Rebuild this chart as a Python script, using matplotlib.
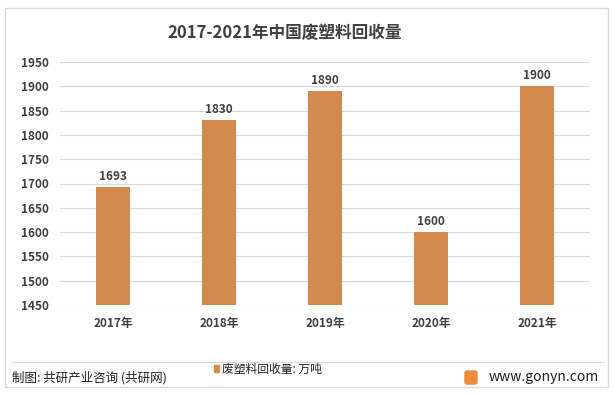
import matplotlib
matplotlib.use('Agg')
import matplotlib.pyplot as plt
from matplotlib.patches import Rectangle, FancyBboxPatch

plt.rcParams['font.family'] = ['Noto Sans CJK SC', 'DejaVu Sans']

years = ['2017年', '2018年', '2019年', '2020年', '2021年']
values = [1693, 1830, 1890, 1600, 1900]
yticks = [1450, 1500, 1550, 1600, 1650, 1700, 1750, 1800, 1850, 1900, 1950]

bar_color = '#D38B4D'
text_color = '#404040'

fig = plt.figure(figsize=(6.14, 3.95), dpi=100)

# outer frame
fig.patches.append(Rectangle((5/614, 8/395), 603/614, 379/395, transform=fig.transFigure,
                             fill=False, edgecolor='#D9D9D9', linewidth=1))

ax = fig.add_axes([60/614, 90/395, 530/614, 243/395])
x = range(len(years))
bars = ax.bar(x, values, width=0.32, color=bar_color, zorder=3)
ax.set_ylim(1450, 1950)
ax.set_xlim(-0.5, len(years) - 0.5)
ax.set_yticks(yticks)
ax.set_xticks(list(x))
ax.set_xticklabels(years, fontsize=8.5, color=text_color, fontweight='bold')
ax.tick_params(axis='y', labelsize=8.5, labelcolor=text_color, length=0, pad=8)
ax.tick_params(axis='x', length=0, pad=9)
for lbl in ax.get_yticklabels():
    lbl.set_fontweight('bold')
ax.grid(axis='y', color='#D9D9D9', linewidth=0.8, zorder=0)
for s in ax.spines.values():
    s.set_visible(False)

for b, v in zip(bars, values):
    ax.text(b.get_x() + b.get_width() / 2, v + 8, str(v), ha='center', va='bottom',
            fontsize=8.5, fontweight='bold', color=text_color)

fig.text(285/614, 1 - 33/395, '2017-2021年中国废塑料回收量', ha='center', va='center',
         fontsize=12, fontweight='bold', color=text_color)

# separator and footer
fig.add_artist(plt.Line2D([12/614, 603/614], [1 - 362/395, 1 - 362/395],
                          color='#D9D9D9', linewidth=0.8, transform=fig.transFigure))
fig.text(12/614, 1 - 378/395, '制图: 共研产业咨询 (共研网)', ha='left', va='center',
         fontsize=9, color='#222222')
fig.patches.append(Rectangle((214/614, 1 - 372/395), 5/614, 7/395, transform=fig.transFigure,
                             color=bar_color))
fig.text(222/614, 1 - 369/395, '废塑料回收量: 万吨', ha='left', va='center',
         fontsize=8.5, color='#222222')
fig.patches.append(FancyBboxPatch((465/614, 1 - 384/395), 12/614, 13/395,
                                  boxstyle='round,pad=0,rounding_size=0.004',
                                  transform=fig.transFigure, color='#F08A3C'))
fig.text(489/614, 1 - 377/395, 'www.gonyn.com', ha='left', va='center',
         fontsize=10, color='#222222')

fig.savefig('out.png', dpi=100)
